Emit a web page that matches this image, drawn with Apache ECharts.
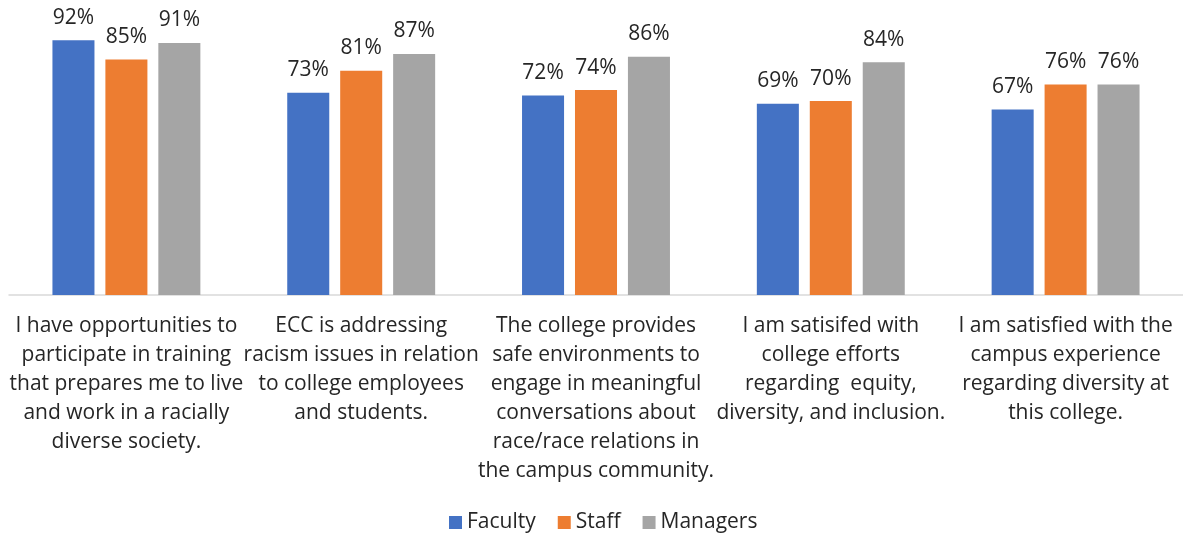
<!DOCTYPE html>
<html>
<head>
<meta charset="utf-8">
<script src="https://cdn.jsdelivr.net/npm/echarts@6/dist/echarts.min.js"></script>
<style>
  html, body { margin: 0; padding: 0; background: #fff; }
  #chart { width: 1183px; height: 540px; }
</style>
</head>
<body>
<div id="chart"></div>
<script>
// categories (line breaks as in the original)
var categories = [
    'I have opportunities to\nparticipate in training\nthat prepares me to live\nand work in a racially\ndiverse society.',
    'ECC is addressing\nracism issues in relation\nto college employees\nand students.',
    'The college provides\nsafe environments to\nengage in meaningful\nconversations about\nrace/race relations in\nthe campus community.',
    'I am satisifed with\ncollege efforts\nregarding  equity,\ndiversity, and inclusion.',
    'I am satisfied with the\ncampus experience\nregarding diversity at\nthis college.'
];
var faculty = [92, 73, 72, 69, 67];
var staff = [85, 81, 74, 70, 76];
var managers = [91, 87, 86, 84, 76];

var font = '"Open Sans", "Noto Sans", sans-serif';

function makeSeries(name, data, color) {
    return {
        name: name,
        type: 'bar',
        data: data,
        barGap: '26%',
        barCategoryGap: '37%',
        itemStyle: { color: color },
        label: {
            show: true,
            position: 'top',
            distance: 12,
            formatter: '{c}%',
            color: '#262626',
            fontSize: 21,
            fontFamily: font
        }
    };
}

var myChart = echarts.init(document.getElementById('chart'));
var option = {
    animation: false,
    textStyle: { fontFamily: font },
    grid: { left: 9, right: 0, top: 18, bottom: 245, containLabel: false },
    legend: {
        bottom: 2,
        left: 444,
        itemWidth: 13,
        itemHeight: 13,
        itemGap: 22,
        icon: 'rect',
        textStyle: { fontSize: 21, color: '#262626', fontFamily: font },
        data: ['Faculty', 'Staff', 'Managers']
    },
    xAxis: {
        type: 'category',
        data: categories,
        axisLine: { lineStyle: { color: '#d9d9d9', width: 1.5 } },
        axisTick: { show: false },
        axisLabel: {
            interval: 0,
            margin: 17,
            color: '#262626',
            fontSize: 21,
            lineHeight: 29,
            fontFamily: font,
            align: 'center'
        }
    },
    yAxis: {
        type: 'value',
        min: 0,
        max: 100,
        show: false,
        splitLine: { show: false }
    },
    series: [
        makeSeries('Faculty', faculty, '#4472c4'),
        makeSeries('Staff', staff, '#ed7d31'),
        makeSeries('Managers', managers, '#a5a5a5')
    ]
};
myChart.setOption(option);
</script>
</body>
</html>
